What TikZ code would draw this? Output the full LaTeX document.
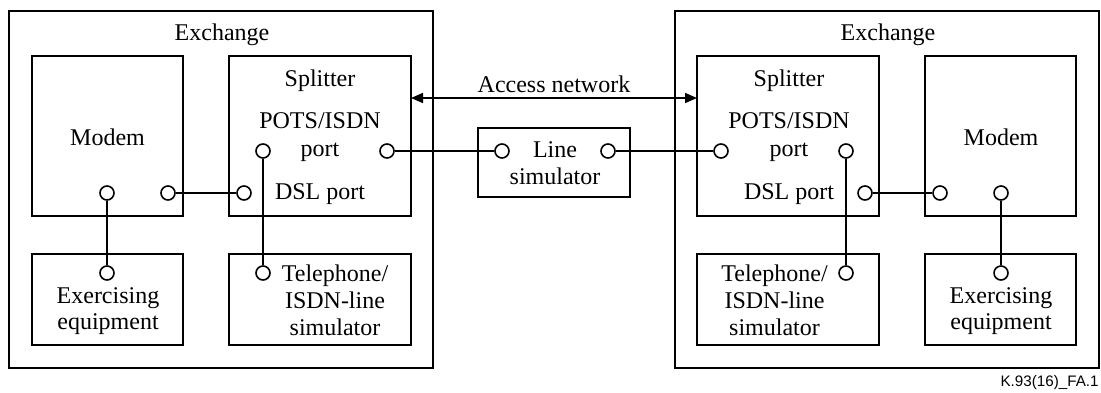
\documentclass[tikz,border=0pt]{standalone}
\usepackage{fontspec}
\setmainfont{Liberation Serif}
\newfontfamily\tagsans{Liberation Sans}
\usetikzlibrary{arrows.meta}
\begin{document}
\begin{tikzpicture}[x=0.5pt,y=-0.5pt,
  box/.style={draw, line width=0.8pt, inner sep=0pt, outer sep=0pt},
  port/.style={circle, draw, line width=0.8pt, minimum size=7pt, inner sep=0pt},
  lbl/.style={anchor=base, inner sep=0pt, font=\fontsize{12}{13.3}\selectfont},
  wire/.style={line width=0.8pt},
  tip/.tip={Triangle[length=6pt,width=5pt]}]
\useasboundingbox (0,0) rectangle (1101,392);

% ---------- left exchange ----------
\node[box, minimum width=212pt, minimum height=178.5pt] (lex) at (221,189.5) {};
\node[box, minimum width=75.5pt, minimum height=80pt] (lmodem) at (107.5,136) {};
\node[box, minimum width=91pt, minimum height=80pt] (lsplit) at (320,136) {};
\node[box, minimum width=75.5pt, minimum height=45.5pt] (lexer) at (107.5,299.5) {};
\node[box, minimum width=91pt, minimum height=45.5pt] (ltel) at (320,299.5) {};

\node[lbl] (lexT) at (222,40) {Exchange};
\node[lbl] (lmodemT) at (107.5,145) {Modem};
\node[lbl] (lsplitT) at (320,86) {Splitter};
\node[lbl] (lpotsT) at (320,128.7) {POTS/ISDN};
\node[lbl] (lpotsT2) at (320,156) {port};
\node[lbl] (ldslT) at (320,199.5) {DSL port};
\node[lbl] (lexerT) at (108,303.3) {Exercising};
\node[lbl] (lexerT2) at (108,329.3) {equipment};
\node[lbl] (ltelT) at (335,281) {Telephone/};
\node[lbl] (ltelT2) at (335,308.3) {ISDN-line};
\node[lbl] (ltelT3) at (335,335) {simulator};

\node[port] (lmA) at (107,193) {};
\node[port] (lmB) at (168,193) {};
\node[port] (lsDsl) at (244,193) {};
\node[port] (lsPots) at (263,151) {};
\node[port] (lsLine) at (387,151) {};
\node[port] (leP) at (107,273) {};
\node[port] (ltP) at (263,273) {};

% ---------- line simulator ----------
\node[box, minimum width=76pt, minimum height=34.5pt] (lsim) at (554,162.5) {};
\node[lbl] (lsimT) at (555,157.3) {Line};
\node[lbl] (lsimT2) at (555,184) {simulator};
\node[port] (lsimA) at (502,151) {};
\node[port] (lsimB) at (608,151) {};

% ---------- right exchange ----------
\node[box, minimum width=212pt, minimum height=178.5pt] (rex) at (887,189.5) {};
\node[box, minimum width=91pt, minimum height=80pt] (rsplit) at (788,136) {};
\node[box, minimum width=75.5pt, minimum height=80pt] (rmodem) at (1000.5,136) {};
\node[box, minimum width=91pt, minimum height=45.5pt] (rtel) at (788,299.5) {};
\node[box, minimum width=75.5pt, minimum height=45.5pt] (rexer) at (1000.5,299.5) {};

\node[lbl] (rexT) at (888,40) {Exchange};
\node[lbl] (rmodemT) at (1001,145) {Modem};
\node[lbl] (rsplitT) at (789,86) {Splitter};
\node[lbl] (rpotsT) at (789,128.7) {POTS/ISDN};
\node[lbl] (rpotsT2) at (789,156) {port};
\node[lbl] (rdslT) at (789,199.5) {DSL port};
\node[lbl] (rexerT) at (1001,303.3) {Exercising};
\node[lbl] (rexerT2) at (1001,329.3) {equipment};
\node[lbl] (rtelT) at (774.5,281) {Telephone/};
\node[lbl] (rtelT2) at (774.5,308.3) {ISDN-line};
\node[lbl] (rtelT3) at (774.5,335) {simulator};

\node[port] (rsLine) at (721,151) {};
\node[port] (rsPots) at (846,151) {};
\node[port] (rsDsl) at (865,193) {};
\node[port] (rmA) at (940,193) {};
\node[port] (rmB) at (1001,193) {};
\node[port] (rtP) at (846,273) {};
\node[port] (reP) at (1001,273) {};

% ---------- access network span ----------
\node[lbl] (accT) at (554,92.3) {Access network};
\draw[wire, tip-tip] (lsplit.east |- 0,98) -- (rsplit.west |- 0,98);

% ---------- wiring ----------
\draw[wire] (lmB) -- (lsDsl);
\draw[wire] (lmA) -- (leP);
\draw[wire] (lsPots) -- (ltP);
\draw[wire] (lsLine) -- (lsimA);
\draw[wire] (lsimB) -- (rsLine);
\draw[wire] (rsDsl) -- (rmA);
\draw[wire] (rsPots) -- (rtP);
\draw[wire] (rmB) -- (reP);

\node[anchor=base east, inner sep=0pt, font=\tagsans\fontsize{7.6}{9}\selectfont] (fig) at (1099,386.5) {K.93(16)\_FA.1};
\end{tikzpicture}
\end{document}
